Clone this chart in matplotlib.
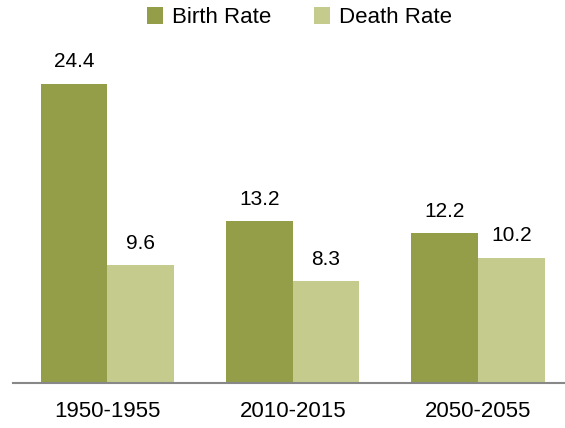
import matplotlib.pyplot as plt
import numpy as np

periods = ['1950-1955', '2010-2015', '2050-2055']
birth_rate = [24.4, 13.2, 12.2]
death_rate = [9.6, 8.3, 10.2]

birth_color = '#949d48'
death_color = '#c5cb8d'

plt.rcParams['font.family'] = ['Liberation Sans', 'DejaVu Sans']

fig = plt.figure(figsize=(5.65, 4.28), dpi=100)
ax = fig.add_axes((0.023, 0.105, 0.977, 0.8))

x = np.arange(len(periods))
w = 0.36
b1 = ax.bar(x - w/2, birth_rate, w, color=birth_color, label='Birth Rate')
b2 = ax.bar(x + w/2, death_rate, w, color=death_color, label='Death Rate')

for bars in (b1, b2):
    for rect in bars:
        ax.annotate('%.1f' % rect.get_height(),
                    (rect.get_x() + rect.get_width()/2, rect.get_height()),
                    xytext=(0, 9), textcoords='offset points',
                    ha='center', va='bottom', fontsize=15)

ax.set_xlim(-0.51, 2.47)
ax.set_ylim(0, 27.9)
ax.set_xticks(x, periods, fontsize=16)
ax.tick_params(axis='x', length=0, pad=13)
ax.set_yticks([])
for s in ('top', 'right', 'left'):
    ax.spines[s].set_visible(False)
ax.spines['bottom'].set_color('#888888')
ax.spines['bottom'].set_linewidth(1.5)

fig.legend(handles=[b1, b2], loc='upper center', bbox_to_anchor=(0.53, 1.03),
           ncol=2, frameon=False, fontsize=16, handlelength=0.75,
           handleheight=0.75, handletextpad=0.4, columnspacing=1.9)

plt.savefig('out.png')
